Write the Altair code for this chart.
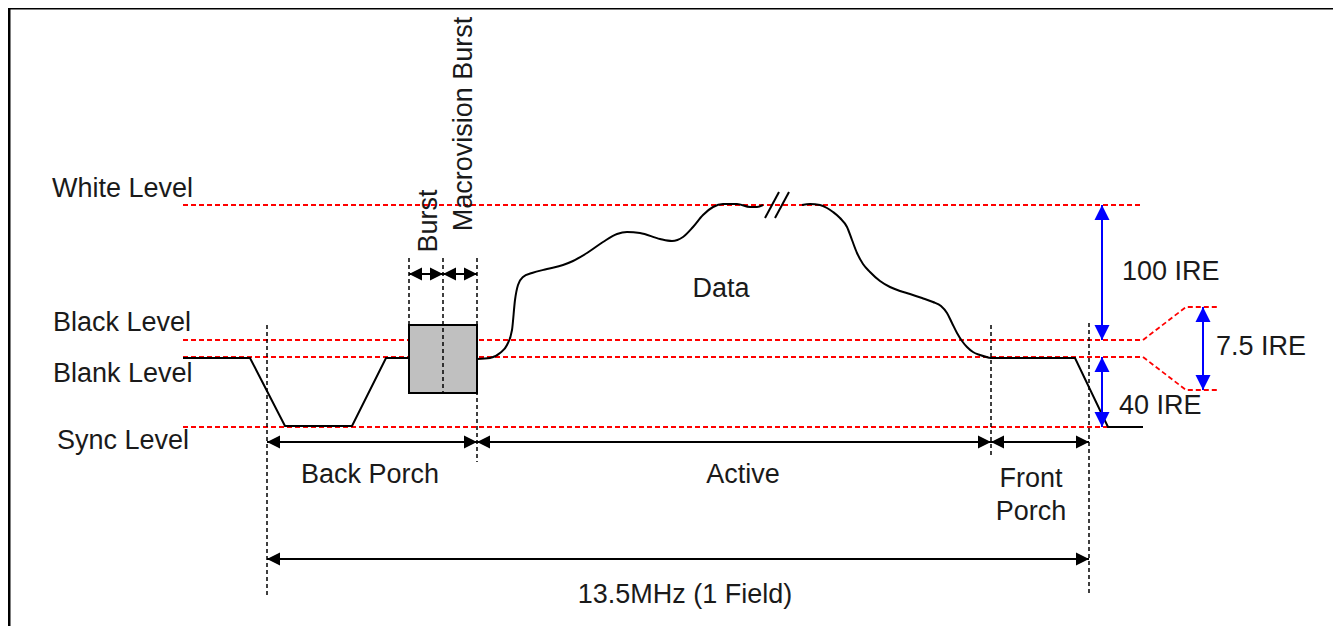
import altair as alt
import pandas as pd

# ---------------- diagram values (diagram units) ----------------
W, H = 1325, 618

# reference levels (red dashed)
red_seg = ["white", "white", "black", "black", "black", "black",
           "blank", "blank", "blank", "blank", "sync", "sync"]
red_x = [183, 1143, 183, 1143, 1186, 1218, 183, 1143, 1186, 1218, 183, 1143]
red_y = [205, 205, 340, 340, 307, 307, 357, 357, 390, 390, 427, 427]

# signal: straight parts
sig_seg = ["sync"] * 6 + ["front"] * 4
sig_x = [183, 250, 285, 352, 386, 409, 990, 1075, 1108, 1143]
sig_y = [358, 358, 426, 426, 358, 358, 358, 358, 427, 427]

# signal: active video (smooth parts)
curve_a_x = [477, 490, 500, 507, 512, 515, 518, 523, 532, 547, 563, 573, 587, 603,
             617, 627, 640, 660, 672, 683, 693, 703, 713, 723, 737, 750, 757, 763]
curve_a_y = [359, 358, 353, 345, 330, 300, 285, 277, 273, 269, 265, 261, 253, 242,
             234, 232, 233, 239, 241, 237, 227, 215, 207, 204, 204, 207, 207, 205]
curve_b_x = [802, 810, 820, 827, 833, 840, 847, 852, 857, 863, 870, 880, 890, 900,
             910, 922, 933, 941, 947, 952, 957, 962, 967, 973, 980, 990]
curve_b_y = [205, 204, 205, 208, 212, 218, 227, 240, 253, 264, 272, 281, 287, 291,
             294, 298, 302, 306, 313, 323, 333, 341, 347, 352, 355, 358]

# break marks "//"
brk_x1 = [765, 775]
brk_y1 = [218, 218]
brk_x2 = [779, 789]
brk_y2 = [192, 192]

# burst box
box_x = [409, 477]
box_y = [325, 393]

# dashed guides
guide_x = [267, 409, 443, 477, 991, 1089]
guide_top = [325, 258, 258, 258, 325, 323]
guide_bot = [595, 325, 393, 462, 458, 595]

# black double arrows
harrow_x1 = [409, 443, 267, 477, 991, 267]
harrow_x2 = [443, 477, 477, 991, 1089, 1089]
harrow_y = [274, 274, 442, 442, 442, 559]

# blue IRE arrows
varrow_x = [1102, 1102, 1203]
varrow_y1 = [205, 357, 307]
varrow_y2 = [340, 427, 390]

# labels
left_text = ["White Level", "Black Level", "Blank Level", "Sync Level",
             "100 IRE", "7.5 IRE", "40 IRE"]
left_x = [52, 53, 53, 57, 1122, 1216, 1119]
left_y = [189, 323, 374, 441, 272, 347, 406]

center_text = ["Back Porch", "Active", "Front", "Porch", "13.5MHz (1 Field)", "Data"]
center_x = [370, 743, 1031, 1031, 685, 721]
center_y = [475, 475, 479, 512, 595, 289]

rot_text = ["Burst", "Macrovision Burst"]
rot_x = [429, 464]
rot_y = [221, 124]

# frame
frame_x = [9, 9]
frame_x2 = [9, 1333]
frame_y = [8, 8]
frame_y2 = [626, 8]

# ---------------- scales ----------------
xs = alt.Scale(domain=[8, 8 + W], nice=False, zero=False)
ys = alt.Scale(domain=[8, 8 + H], nice=False, zero=False, reverse=True)


def X(f="x"):
    return alt.X(f"{f}:Q", scale=xs, axis=None)


def Y(f="y"):
    return alt.Y(f"{f}:Q", scale=ys, axis=None)


FONT = "Liberation Sans"
FS = 27
TXT = "#1a1a1a"

# ---------------- layers ----------------
red_df = pd.DataFrame({"seg": red_seg, "x": red_x, "y": red_y, "o": range(len(red_x))})
red = alt.Chart(red_df).mark_line(color="#ff0000", strokeWidth=1.8, strokeDash=[5, 3]).encode(
    x=X(), y=Y(), detail="seg:N", order="o:Q")

guide_df = pd.DataFrame({"x": guide_x, "y": guide_top, "y2": guide_bot})

box_df = pd.DataFrame({"x": [box_x[0]], "x2": [box_x[1]], "y": [box_y[0]], "y2": [box_y[1]]})
box = alt.Chart(box_df).mark_rect(fill="#c0c0c0", stroke="black", strokeWidth=2).encode(
    x=X(), x2="x2:Q", y=Y(), y2="y2:Q")

guides = alt.Chart(guide_df).mark_rule(color="black", strokeWidth=1.5, strokeDash=[4, 3]).encode(
    x=X(), y=Y(), y2="y2:Q")

sig_df = pd.DataFrame({"seg": sig_seg, "x": sig_x, "y": sig_y, "o": range(len(sig_x))})
sig = alt.Chart(sig_df).mark_line(color="black", strokeWidth=2).encode(
    x=X(), y=Y(), detail="seg:N", order="o:Q")

curve_df = pd.DataFrame({
    "seg": ["a"] * len(curve_a_x) + ["b"] * len(curve_b_x),
    "x": curve_a_x + curve_b_x,
    "y": curve_a_y + curve_b_y,
})
curve_df["o"] = range(len(curve_df))
curve = alt.Chart(curve_df).mark_line(color="black", strokeWidth=2, interpolate="monotone").encode(
    x=X(), y=Y(), detail="seg:N", order="o:Q")

brk_df = pd.DataFrame({
    "seg": [0, 0, 1, 1],
    "x": [brk_x1[0], brk_x2[0], brk_x1[1], brk_x2[1]],
    "y": [brk_y1[0], brk_y2[0], brk_y1[1], brk_y2[1]],
    "o": [0, 1, 2, 3],
})
brk = alt.Chart(brk_df).mark_line(color="black", strokeWidth=2).encode(
    x=X(), y=Y(), detail="seg:N", order="o:Q")

h_df = pd.DataFrame({"x": harrow_x1, "x2": harrow_x2, "y": harrow_y})
h_shaft = alt.Chart(h_df).mark_rule(color="black", strokeWidth=2).encode(
    x=X(), x2="x2:Q", y=Y())

v_df = pd.DataFrame({"x": varrow_x, "y": varrow_y1, "y2": varrow_y2})
v_shaft = alt.Chart(v_df).mark_rule(color="#0000ff", strokeWidth=2).encode(
    x=X(), y=Y(), y2="y2:Q")

HEAD = "M0,0 L-1,-0.5 L-1,0.5 Z"
bh_rows = []
for x1, x2, y in zip(harrow_x1, harrow_x2, harrow_y):
    bh_rows.append({"x": x1, "y": y, "a": 180})
    bh_rows.append({"x": x2, "y": y, "a": 0})
bh_df = pd.DataFrame(bh_rows)
b_heads = alt.Chart(bh_df).mark_point(shape=HEAD, filled=True, size=676, color="black",
                                      opacity=1, strokeWidth=0).encode(
    x=X(), y=Y(), angle=alt.Angle("a:Q", scale=None))

vh_rows = []
for x, y1, y2 in zip(varrow_x, varrow_y1, varrow_y2):
    vh_rows.append({"x": x, "y": y1, "a": 270})
    vh_rows.append({"x": x, "y": y2, "a": 90})
vh_df = pd.DataFrame(vh_rows)
v_heads = alt.Chart(vh_df).mark_point(shape=HEAD, filled=True, size=900, color="#0000ff",
                                      opacity=1, strokeWidth=0).encode(
    x=X(), y=Y(), angle=alt.Angle("a:Q", scale=None))

lt_df = pd.DataFrame({"t": left_text, "x": left_x, "y": left_y})
lt = alt.Chart(lt_df).mark_text(font=FONT, fontSize=FS, align="left", baseline="middle",
                                color=TXT).encode(x=X(), y=Y(), text="t:N")

ct_df = pd.DataFrame({"t": center_text, "x": center_x, "y": center_y})
ct = alt.Chart(ct_df).mark_text(font=FONT, fontSize=FS, align="center", baseline="middle",
                                color=TXT).encode(x=X(), y=Y(), text="t:N")

rt_df = pd.DataFrame({"t": rot_text, "x": rot_x, "y": rot_y})
rt = alt.Chart(rt_df).mark_text(font=FONT, fontSize=FS, align="center", baseline="middle",
                                angle=270, color=TXT).encode(x=X(), y=Y(), text="t:N")

fr_df = pd.DataFrame({"x": frame_x, "x2": frame_x2, "y": frame_y, "y2": frame_y2})
frame = alt.Chart(fr_df).mark_rule(color="black", strokeWidth=3).encode(
    x=X(), x2="x2:Q", y=Y(), y2="y2:Q")

chart = alt.layer(
    red, box, guides, sig, curve, brk, h_shaft, b_heads, v_shaft, v_heads, lt, ct, rt, frame
).properties(
    width=W, height=H, autosize=alt.AutoSizeParams(type="none"), padding=0
).configure_view(strokeWidth=0).configure(background="white")

chart.save("out.html", embed_options={"renderer": "svg", "actions": False})
